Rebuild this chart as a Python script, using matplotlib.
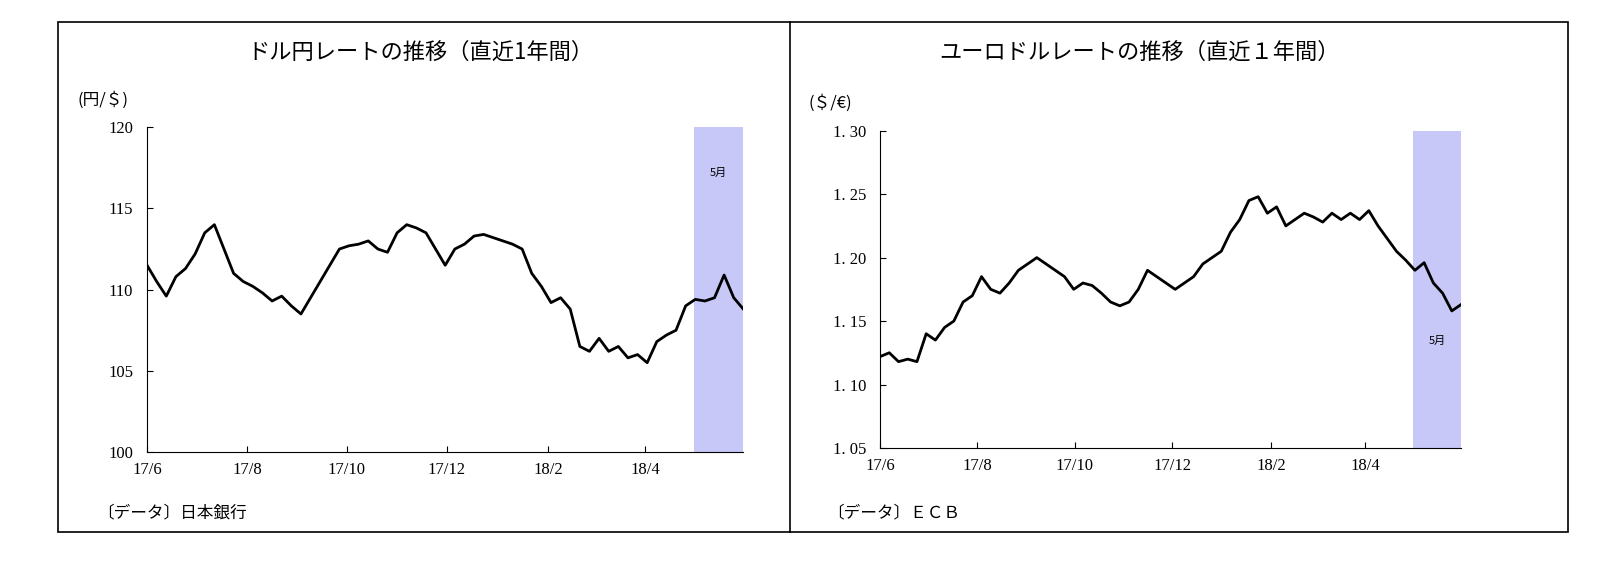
import matplotlib
matplotlib.use("Agg")
import matplotlib.pyplot as plt
from matplotlib.patches import Rectangle
from matplotlib.lines import Line2D
import pandas as pd

jp = "Noto Sans CJK JP"
serif = "Liberation Serif"

usdjpy = [111.5, 110.5, 109.6, 110.8, 111.3,
          112.2, 113.5, 114.0, 112.5, 111.0, 110.5,
          110.2, 109.8, 109.3, 109.6, 109.0, 108.5,
          109.5, 110.5, 111.5, 112.5, 112.7,
          112.8, 113.0, 112.5, 112.3, 113.5, 114.0,
          113.8, 113.5, 112.5, 111.5, 112.5,
          112.8, 113.3, 113.4, 113.2, 113.0,
          112.8, 112.5, 111.0, 110.2, 109.2,
          109.5, 108.8, 106.5, 106.2, 107.0,
          106.2, 106.5, 105.8, 106.0, 105.5,
          106.8, 107.2, 107.5, 109.0, 109.4,
          109.3, 109.5, 110.9, 109.5, 108.8]
eurusd = [1.122, 1.125, 1.118, 1.120, 1.118,
          1.140, 1.135, 1.145, 1.150, 1.165, 1.170,
          1.185, 1.175, 1.172, 1.180, 1.190,
          1.195, 1.200, 1.195, 1.190, 1.185,
          1.175, 1.180, 1.178, 1.172, 1.165,
          1.162, 1.165, 1.175, 1.190, 1.185,
          1.180, 1.175, 1.180, 1.185, 1.195,
          1.200, 1.205, 1.220, 1.230, 1.245,
          1.248, 1.235, 1.240, 1.225, 1.230,
          1.235, 1.232, 1.228, 1.235, 1.230,
          1.235, 1.230, 1.237, 1.225, 1.215,
          1.205, 1.198, 1.190, 1.196, 1.180, 1.172, 1.158, 1.163]
tick_dates = ["2017-06-01", "2017-08-01", "2017-10-01", "2017-12-01", "2018-02-01", "2018-04-01"]
tick_labels = ["17/6", "17/8", "17/10", "17/12", "18/2", "18/4"]

start, end = pd.Timestamp("2017-06-01"), pd.Timestamp("2018-05-31")

fig = plt.figure(figsize=(16.16, 5.81), dpi=100)
fig.add_artist(Rectangle((0.036, 0.084), 0.934, 0.878, transform=fig.transFigure,
                         fill=False, lw=1.2, ec="black"))
fig.add_artist(Line2D([0.489, 0.489], [0.084, 0.962], transform=fig.transFigure, lw=1.2, color="black"))

def panel(rect, vals, ylim, yticks, ylabels, title, tx, unit, ux, uy, src, month_y):
    ax = fig.add_axes(rect)
    dates = pd.date_range(start, end, periods=len(vals))
    ax.axvspan(pd.Timestamp("2018-05-01"), end, color="#c8c8f8", lw=0)
    ax.plot(dates, vals, color="black", lw=2)
    ax.set_xlim(start, end)
    ax.set_ylim(*ylim)
    ax.set_yticks(yticks)
    ax.set_yticklabels(ylabels, fontfamily=serif, fontsize=12)
    ax.set_xticks(pd.to_datetime(tick_dates))
    ax.set_xticklabels(tick_labels, fontfamily=serif, fontsize=12)
    for s in ["top", "right"]:
        ax.spines[s].set_visible(False)
    ax.tick_params(axis="y", direction="in", length=4, pad=10)
    ax.tick_params(axis="x", direction="in", length=4, pad=7)
    ax.text(pd.Timestamp("2018-05-16"), month_y, "5月", ha="center", fontfamily=jp, fontsize=8)
    fig.text(tx, 0.91, title, ha="center", va="center", fontfamily=jp, fontsize=16)
    fig.text(ux, uy, unit, ha="left", va="center", fontfamily=jp, fontsize=12)
    fig.text(ux + 0.012, 0.118, src, ha="left", va="center", fontfamily=jp, fontsize=12)

panel([0.091, 0.222, 0.369, 0.559], usdjpy, (100, 120), [100, 105, 110, 115, 120],
      ["100", "105", "110", "115", "120"], "ドル円レートの推移（直近1年間）", 0.26,
      "(円/＄)", 0.048, 0.828, "〔データ〕日本銀行", 117)
panel([0.5446, 0.229, 0.3595, 0.546], eurusd, (1.05, 1.30),
      [1.05, 1.10, 1.15, 1.20, 1.25, 1.30],
      ["1. 05", "1. 10", "1. 15", "1. 20", "1. 25", "1. 30"],
      "ユーロドルレートの推移（直近１年間）", 0.705, "(＄/€)", 0.5, 0.822,
      "〔データ〕ＥＣＢ", 1.132)

fig.savefig("out.png", dpi=100)
